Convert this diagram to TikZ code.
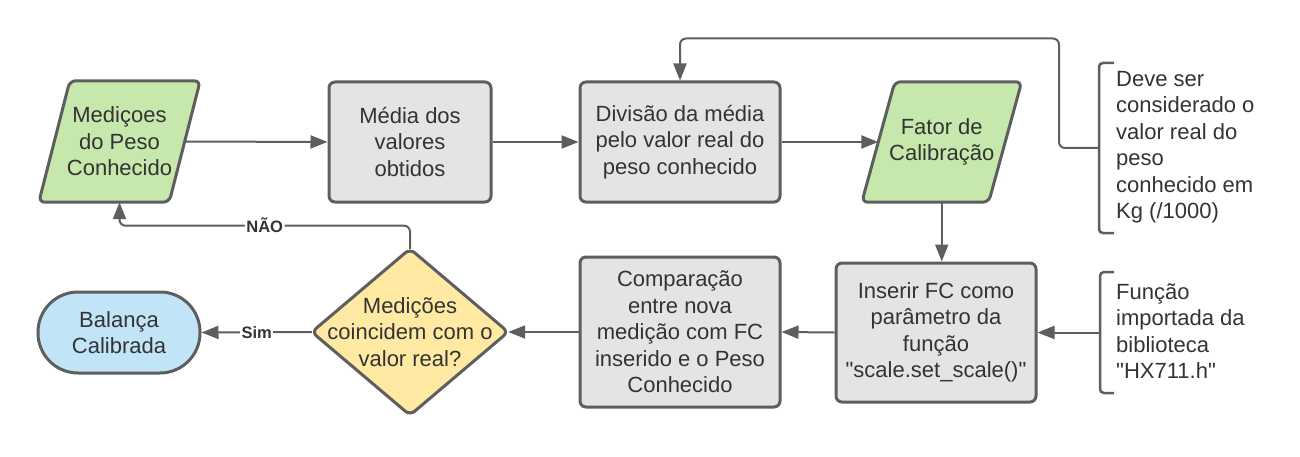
\documentclass[tikz,border=0pt]{standalone}
\usepackage{fontspec}
\setmainfont{Liberation Sans}
\usetikzlibrary{arrows.meta,calc,backgrounds}
\definecolor{strk}{HTML}{5E5E5E}
\definecolor{txtc}{HTML}{333333}
\definecolor{greenf}{HTML}{C7E8AC}
\definecolor{grayf}{HTML}{E4E4E4}
\definecolor{yellowf}{HTML}{FFE9A3}
\definecolor{bluef}{HTML}{C1E4F7}
\begin{document}
\begin{tikzpicture}[x=1pt,y=-1pt,
  txt/.style={font=\fontsize{22}{26.5}\selectfont, text=txtc, align=center, inner sep=0pt},
  box/.style={txt, draw=strk, line width=3pt, fill=grayf, rounded corners=6pt},
  conn/.style={draw=strk, line width=2pt, -{Triangle[length=17pt,width=13pt]}},
  lbl/.style={font=\fontsize{16.5}{18}\selectfont\bfseries, text=txtc, fill=white, inner sep=1.5pt},
  shp/.style={draw=strk, line width=3pt, rounded corners=6pt, line join=round},
  brk/.style={draw=strk, line width=2.5pt, rounded corners=4pt},
  note/.style={font=\fontsize{22}{26.5}\selectfont, text=txtc, align=left, inner sep=0pt, anchor=west}
]
\useasboundingbox (0,0) rectangle (1300,457);

% top row
\node[txt, minimum width=130pt, minimum height=121pt] (p1) at (119.5,141.5) {Mediçoes\\do Peso\\Conhecido};
\node[box, minimum width=162pt, minimum height=120pt] (b2) at (410,142) {Média dos\\valores\\obtidos};
\node[box, minimum width=200pt, minimum height=120pt] (b3) at (680,142) {Divisão da média\\pelo valor real do\\peso conhecido};
\node[txt, minimum width=126.5pt, minimum height=120pt] (p2) at (941.75,142) {Fator de\\Calibração};

% bottom row
\node[box, minimum width=200pt, minimum height=139pt] (b5) at (936,332.5) {Inserir FC como\\parâmetro da\\função\\\textquotedbl scale.set\_scale()\textquotedbl};
\node[box, minimum width=200pt, minimum height=150pt] (b6) at (680,332) {Comparação\\entre nova\\medição com FC\\inserido e o Peso\\Conhecido};
\node[txt, minimum width=196pt, minimum height=166pt] (d) at (410,332) {Medições\\coincidem com o\\valor real?};
\node[box, fill=bluef, rounded corners=40pt, minimum width=162pt, minimum height=81pt] (bal) at (119,332.5) {Balança\\Calibrada};

\begin{pgfonlayer}{background}
\draw[shp, fill=greenf] ($(p1.north west)+(15.5,0)$) -- ($(p1.north east)+(15.5,0)$) -- ($(p1.south east)+(-15.5,0)$) -- ($(p1.south west)+(-15.5,0)$) -- cycle;
\draw[shp, fill=greenf] ($(p2.north west)+(16.5,0)$) -- ($(p2.north east)+(16.5,0)$) -- ($(p2.south east)+(-16.5,0)$) -- ($(p2.south west)+(-16.5,0)$) -- cycle;
\draw[shp, fill=yellowf] (d.north) -- (d.east) -- (d.south) -- (d.west) -- cycle;
\end{pgfonlayer}

% notes with brackets
\draw[brk] (1114,63) -- (1099,63) -- (1099,233) -- (1114,233);
\coordinate (br1) at (1099,148);
\node[note] (n1) at (1116,147) {Deve ser\\considerado o\\valor real do\\peso\\conhecido em\\Kg (/1000)};
\draw[brk] (1114,272) -- (1100,272) -- (1100,393) -- (1114,393);
\coordinate (br2) at (1100,332.5);
\node[note] (n2) at (1116,331) {Função\\importada da\\biblioteca\\\textquotedbl HX711.h\textquotedbl};

% connectors
\draw[conn] (p1.east) -- (b2.west);
\draw[conn] (b2.east) -- (b3.west);
\draw[conn] (b3.east) -- (p2.west);
\draw[conn, rounded corners=6pt] (br1) -- ++(-40,0) |- ($(b3.north)+(0,-42)$) -- (b3.north);
\draw[conn] (p2.south) -- (p2.south |- b5.north);
\draw[conn] (br2) -- (b5.east);
\draw[conn] (b5.west) -- (b6.east);
\draw[conn] (b6.west) -- (d.east);
\draw[conn] (d.west) -- node[lbl] {Sim} (bal.east);
\draw[conn, rounded corners=6pt] (d.north) |- node[lbl, pos=0.75] {NÃO} ($(p1.south)+(0,23.5)$) -- (p1.south);
\end{tikzpicture}
\end{document}
